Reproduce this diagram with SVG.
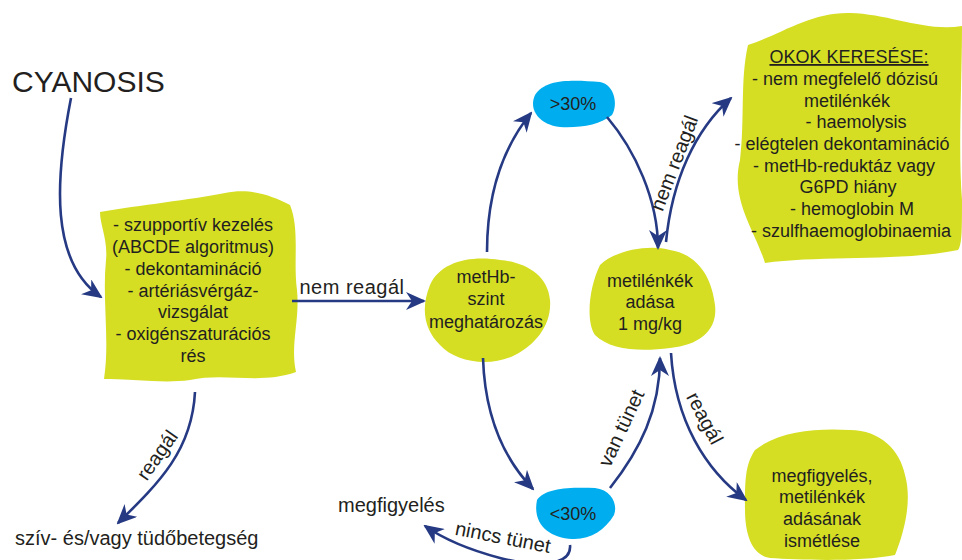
<svg xmlns="http://www.w3.org/2000/svg" width="962" height="560" viewBox="0 0 962 560">
<style>
text{font-family:"Liberation Sans",Arial,sans-serif;fill:#231f20}
.n{font-size:18px;text-anchor:middle}
.l{font-size:20px;text-anchor:middle}
.y{fill:#d5de23}
.b{fill:#00aeef}
.c{fill:none;stroke:#263a84;stroke-width:2.6;marker-end:url(#ah)}
</style>
<defs>
<marker id="ah" markerUnits="userSpaceOnUse" markerWidth="20" markerHeight="18" viewBox="0 0 20 18" refX="18" refY="9" orient="auto">
<path d="M0,0 L20,9 L0,18 L6,9 Z" fill="#263a84"/>
</marker>
</defs>
<rect width="962" height="560" fill="#fff"/>

<g id="cyanosis"><text x="12" y="92" style="font-size:30px">CYANOSIS</text></g>

<g id="n1">
<path class="y" d="M100,212 C140,205 190,200 225,193 C250,188 270,195 290,205 C300,230 293,260 297,290 C300,320 290,345 296,372 C260,385 225,372 190,380 C160,384 130,378 104,379 C110,340 102,300 106,260 C108,240 100,225 100,212 Z"/>
<text class="n" x="193" y="231">- szupportív kezelés</text>
<text class="n" x="193" y="253">(ABCDE algoritmus)</text>
<text class="n" x="193" y="275">- dekontamináció</text>
<text class="n" x="193" y="297">- artériásvérgáz-</text>
<text class="n" x="193" y="318">vizsgálat</text>
<text class="n" x="193" y="340">- oxigénszaturációs</text>
<text class="n" x="193" y="362">rés</text>
</g>

<g id="n2">
<path class="y" d="M430,285 C440,262 470,255 500,260 C525,262 548,275 550,300 C552,325 535,345 515,355 C490,368 455,362 440,345 C425,330 420,310 430,285 Z"/>
<text class="n" x="486" y="283">metHb-</text>
<text class="n" x="486" y="305">szint</text>
<text class="n" x="486" y="328">meghatározás</text>
</g>

<g id="gt30">
<path class="b" d="M535,95 C545,78 575,80 600,82 C615,85 618,105 612,115 C600,125 580,128 560,127 C540,125 528,110 535,95 Z"/>
<text class="n" x="573" y="110">&gt;30%</text>
</g>

<g id="lt30">
<path class="b" d="M537,500 C545,488 570,487 595,488 C612,490 618,505 614,515 C605,530 590,540 572,539 C550,538 532,525 537,500 Z"/>
<text class="n" x="573" y="520">&lt;30%</text>
</g>

<g id="n3">
<path class="y" d="M600,265 C615,250 650,244 670,250 C700,255 712,280 715,305 C718,330 700,345 670,348 C640,352 610,350 595,335 C585,320 590,285 600,265 Z"/>
<text class="n" x="650" y="287">metilénkék</text>
<text class="n" x="650" y="308">adása</text>
<text class="n" x="650" y="330">1 mg/kg</text>
</g>

<g id="n4">
<path class="y" d="M748,45 C780,35 810,12 850,13 C890,14 925,32 962,26 C962,80 958,150 962,200 C962,230 962,245 958,250 C900,262 820,255 765,263 C755,230 730,200 740,160 C745,120 740,80 748,45 Z"/>
<text class="n" x="849" y="63" text-decoration="underline">OKOK KERESÉSE:</text>
<text class="n" x="845" y="85">- nem megfelelő dózisú</text>
<text class="n" x="847" y="107">metilénkék</text>
<text class="n" x="856" y="128">- haemolysis</text>
<text class="n" x="842" y="150">- elégtelen dekontamináció</text>
<text class="n" x="844" y="172">- metHb-reduktáz vagy</text>
<text class="n" x="848" y="193">G6PD hiány</text>
<text class="n" x="852" y="215">- hemoglobin M</text>
<text class="n" x="851" y="237">- szulfhaemoglobinaemia</text>
</g>

<g id="n5">
<path class="y" d="M755,450 C780,430 820,428 850,430 C880,430 900,450 905,475 C912,500 905,530 895,555 C860,562 800,560 770,558 C750,555 745,530 745,510 C745,480 745,465 755,450 Z"/>
<text class="n" x="822" y="482">megfigyelés,</text>
<text class="n" x="822" y="503">metilénkék</text>
<text class="n" x="822" y="525">adásának</text>
<text class="n" x="822" y="547">ismétlése</text>
</g>

<g id="t1"><text x="15" y="545" style="font-size:20px">szív- és/vagy tüdőbetegség</text></g>
<g id="t2"><text x="338" y="512" style="font-size:20px">megfigyelés</text></g>

<g id="connectors">
<path class="c" d="M71,98 C55,180 50,262 101,297"/>
<path class="c" d="M292,301 L424,301"/>
<path class="c" d="M195,392 C192,450 160,482 118,523"/>
<path class="c" d="M487,252 C487,190 505,145 531,113"/>
<path class="c" d="M607,117 C635,150 658,200 658,248"/>
<path class="c" d="M666,242 C672,180 695,130 731,98"/>
<path class="c" d="M483,358 C485,420 505,460 533,489"/>
<path class="c" d="M610,488 C640,450 660,410 660,358"/>
<path class="c" d="M671,353 C675,420 705,470 746,500"/>
<path class="c" d="M570,545 C572,565 540,568 500,558 C470,550 445,540 425,526"/>
<text class="l" x="352" y="294" style="letter-spacing:0.5px">nem reagál</text>
<text class="l" transform="translate(157,455) rotate(-55)" y="7">reagál</text>
<text class="l" transform="translate(674,163) rotate(-69)" y="7">nem reagál</text>
<text class="l" transform="translate(621,428) rotate(-65)" y="7">van tünet</text>
<text class="l" transform="translate(705,418) rotate(62)" y="7">reagál</text>
<text class="l" transform="translate(503,537) rotate(11)" y="7">nincs tünet</text>
</g>
</svg>
